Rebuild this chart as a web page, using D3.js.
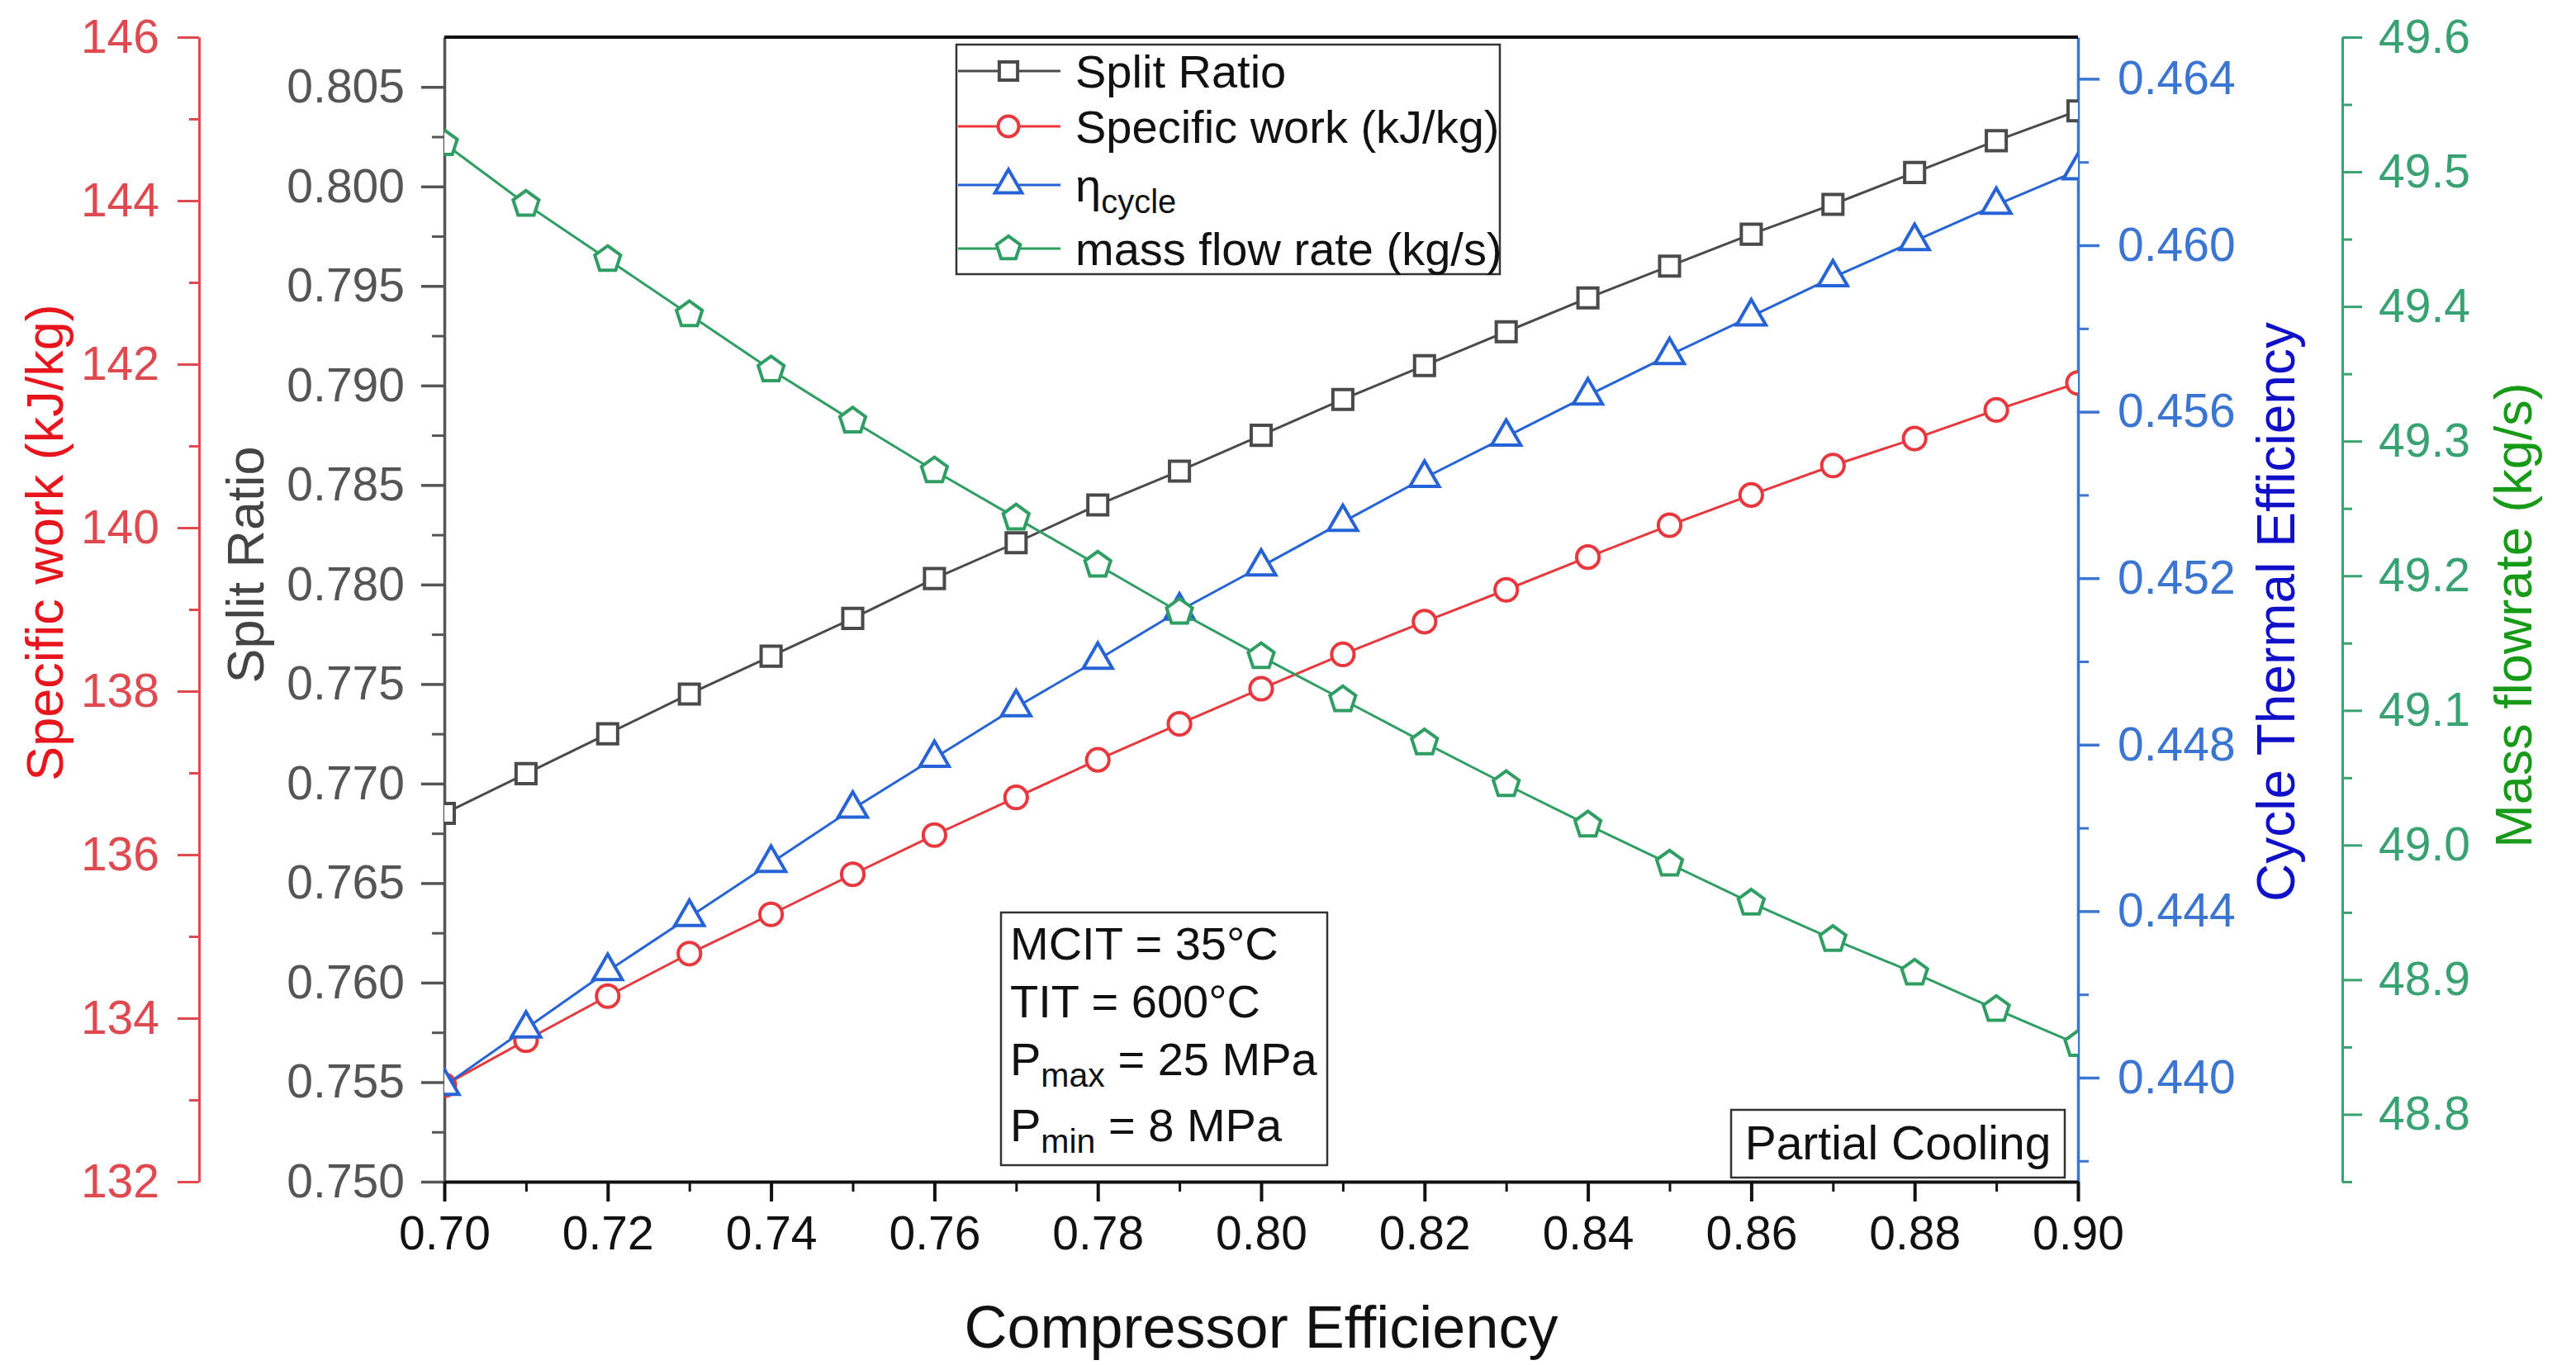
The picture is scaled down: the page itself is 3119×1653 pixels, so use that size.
<!DOCTYPE html>
<html>
<head>
<meta charset="utf-8">
<script src="https://cdn.jsdelivr.net/npm/d3@7"></script>
<style>
  html, body { margin: 0; padding: 0; background: #fff; }
  svg { display: block; font-family: "Liberation Sans", Arial, sans-serif; }
</style>
</head>
<body>
<svg id="chart" width="3119" height="1653"></svg>
<script>
// Compressor efficiency sweep (partial cooling cycle)
const efficiency = [0.70, 0.71, 0.72, 0.73, 0.74, 0.75, 0.76, 0.77, 0.78, 0.79, 0.80,
                    0.81, 0.82, 0.83, 0.84, 0.85, 0.86, 0.87, 0.88, 0.89, 0.90];

const splitRatio = [0.7685, 0.7705, 0.7725, 0.7745, 0.7764, 0.7783, 0.7803, 0.7821, 0.7840, 0.7857, 0.7875,
                    0.7893, 0.7910, 0.7927, 0.7944, 0.7960, 0.7976, 0.7991, 0.8007, 0.8023, 0.8038];

const specificWork = [133.18, 133.73, 134.27, 134.79, 135.27, 135.76, 136.24, 136.70, 137.16, 137.60, 138.03,
                      138.45, 138.85, 139.24, 139.64, 140.03, 140.40, 140.76, 141.09, 141.44, 141.77];

const etaCycle = [0.43980, 0.44118, 0.44256, 0.44386, 0.44516, 0.44646, 0.44768, 0.44890, 0.45004, 0.45122, 0.45228,
                  0.45335, 0.45441, 0.45540, 0.45639, 0.45736, 0.45829, 0.45923, 0.46010, 0.46097, 0.46180];

const massFlow = [49.521, 49.476, 49.435, 49.394, 49.353, 49.315, 49.278, 49.243, 49.208, 49.173, 49.140,
                  49.108, 49.076, 49.045, 49.015, 48.986, 48.957, 48.930, 48.905, 48.878, 48.852];

// Tick values
const xTicks = [0.70, 0.72, 0.74, 0.76, 0.78, 0.80, 0.82, 0.84, 0.86, 0.88, 0.90];
const xMinor = [0.71, 0.73, 0.75, 0.77, 0.79, 0.81, 0.83, 0.85, 0.87, 0.89];
const splitTicks = [0.750, 0.755, 0.760, 0.765, 0.770, 0.775, 0.780, 0.785, 0.790, 0.795, 0.800, 0.805];
const splitMinor = [0.7525, 0.7575, 0.7625, 0.7675, 0.7725, 0.7775, 0.7825, 0.7875, 0.7925, 0.7975, 0.8025];
const workTicks = [132, 134, 136, 138, 140, 142, 144, 146];
const workMinor = [133, 135, 137, 139, 141, 143, 145];
const etaTicks = [0.440, 0.444, 0.448, 0.452, 0.456, 0.460, 0.464];
const etaMinor = [0.438, 0.442, 0.446, 0.450, 0.454, 0.458, 0.462];
const massTicks = [48.8, 48.9, 49.0, 49.1, 49.2, 49.3, 49.4, 49.5, 49.6];
const massMinor = [48.75, 48.85, 48.95, 49.05, 49.15, 49.25, 49.35, 49.45, 49.55];

const seriesNames = ["Split Ratio", "Specific work (kJ/kg)", "η", "mass flow rate (kg/s)"];
const conditions = [["MCIT = 35°C", ""], ["TIT = 600°C", ""], ["P", "max", " = 25 MPa"], ["P", "min", " = 8 MPa"]];

// Layout
const L = 538, R = 2516, T = 45, B = 1431;
const svg = d3.select("#chart");

const x = d3.scaleLinear().domain([0.70, 0.90]).range([L, R]);
const ySplit = d3.scaleLinear().domain([0.750, 0.8075]).range([B, T]);
const yWork = d3.scaleLinear().domain([132, 146]).range([B, T]);
const yEta = d3.scaleLinear().domain([0.4375, 0.465]).range([B, T]);
const yMass = d3.scaleLinear().domain([48.75, 49.6]).range([B, T]);

const C = {
  split: "#4a4a4a", work: "#e8383d", eta: "#2563d6", mass: "#2f9e63",
  splitAxis: "#555555", workAxis: "#de4a50", etaAxis: "#3a75d2", massAxis: "#39a272",
  workTitle: "#e8151c", etaTitle: "#1010c8", massTitle: "#179a17", splitTitle: "#444444"
};

const tickFont = 57;

function styleAxis(g, color, width) {
  g.select(".domain").attr("stroke", color).attr("stroke-width", width);
  g.selectAll(".tick line").attr("stroke", color).attr("stroke-width", width);
  g.selectAll(".tick text").attr("fill", color).attr("font-size", tickFont)
    .attr("font-family", "Liberation Sans, Arial, sans-serif");
}

// Minor ticks (drawn first, no labels)
function minor(axisFn, scale, vals, len, tx, ty, color, width) {
  const g = svg.append("g").attr("transform", `translate(${tx},${ty})`)
    .call(axisFn(scale).tickValues(vals).tickSize(len).tickFormat(""));
  g.select(".domain").remove();
  g.selectAll(".tick line").attr("stroke", color).attr("stroke-width", width);
}

// Red specific-work axis (far left)
const workX = 241;
minor(d3.axisLeft, yWork, workMinor, 12, workX, 0, C.workAxis, 3);
const gWork = svg.append("g").attr("transform", `translate(${workX},0)`)
  .call(d3.axisLeft(yWork).tickValues(workTicks).tickSize(26).tickSizeOuter(0).tickPadding(22).tickFormat(d3.format("d")));
styleAxis(gWork, C.workAxis, 3);

// Split-ratio axis (plot left edge)
minor(d3.axisLeft, ySplit, splitMinor, 15, L, 0, C.splitAxis, 3);
const gSplit = svg.append("g").attr("transform", `translate(${L},0)`)
  .call(d3.axisLeft(ySplit).tickValues(splitTicks).tickSize(28).tickSizeOuter(0).tickPadding(20).tickFormat(d3.format(".3f")));
styleAxis(gSplit, C.splitAxis, 3.5);

// Cycle efficiency axis (plot right edge)
minor(d3.axisRight, yEta, etaMinor, 13, R, 0, C.etaAxis, 3);
const gEta = svg.append("g").attr("transform", `translate(${R},0)`)
  .call(d3.axisRight(yEta).tickValues(etaTicks).tickSize(26).tickSizeOuter(0).tickPadding(22).tickFormat(d3.format(".3f")));
styleAxis(gEta, C.etaAxis, 3.5);

// Mass flow axis (far right)
const massX = 2836;
minor(d3.axisRight, yMass, massMinor, 12, massX, 0, C.massAxis, 3);
const gMass = svg.append("g").attr("transform", `translate(${massX},0)`)
  .call(d3.axisRight(yMass).tickValues(massTicks).tickSize(24).tickSizeOuter(0).tickPadding(20).tickFormat(d3.format(".1f")));
styleAxis(gMass, C.massAxis, 3);

// Top frame line
svg.append("line").attr("x1", L).attr("x2", R).attr("y1", T).attr("y2", T)
  .attr("stroke", "#111").attr("stroke-width", 4);

// X axis
minor(d3.axisBottom, x, xMinor, 12, 0, B, "#111", 3);
const gX = svg.append("g").attr("transform", `translate(0,${B})`)
  .call(d3.axisBottom(x).tickValues(xTicks).tickSize(24).tickSizeOuter(0).tickPadding(18).tickFormat(d3.format(".2f")));
styleAxis(gX, "#111", 4);

// Axis titles
function vTitle(text, cx, cy, color, size) {
  svg.append("text").attr("transform", `translate(${cx},${cy}) rotate(-90)`)
    .attr("text-anchor", "middle").attr("dominant-baseline", "central")
    .attr("fill", color).attr("font-size", size).text(text);
}
vTitle("Specific work (kJ/kg)", 54, 657, C.workTitle, 63);
vTitle("Split Ratio", 297, 684, C.splitTitle, 63);
vTitle("Cycle Thermal Efficiency", 2756, 741, C.etaTitle, 64);
vTitle("Mass flowrate (kg/s)", 3043, 745, C.massTitle, 63);

svg.append("text").attr("x", (L + R) / 2).attr("y", 1632)
  .attr("text-anchor", "middle").attr("fill", "#111").attr("font-size", 72)
  .text("Compressor Efficiency");

// Plot clip
svg.append("clipPath").attr("id", "plotClip")
  .append("rect").attr("x", L).attr("y", T).attr("width", R - L).attr("height", B - T);

// Marker shapes
const pentagon = {
  draw(ctx, size) {
    const r = Math.sqrt(size / 2.3776);
    for (let i = 0; i < 5; i++) {
      const a = -Math.PI / 2 + i * 2 * Math.PI / 5;
      const px = r * Math.cos(a), py = r * Math.sin(a);
      if (i === 0) ctx.moveTo(px, py); else ctx.lineTo(px, py);
    }
    ctx.closePath();
  }
};

const series = [
  { name: seriesNames[0], vals: splitRatio, y: ySplit, color: C.split, sym: d3.symbolSquare, size: 580 },
  { name: seriesNames[1], vals: specificWork, y: yWork, color: C.work, sym: d3.symbolCircle, size: 580 },
  { name: seriesNames[2], vals: etaCycle, y: yEta, color: C.eta, sym: d3.symbolTriangle, size: 540 },
  { name: seriesNames[3], vals: massFlow, y: yMass, color: C.mass, sym: pentagon, size: 640 }
];

const plot = svg.append("g").attr("clip-path", "url(#plotClip)");

series.forEach(s => {
  const pts = efficiency.map((e, i) => [e, s.vals[i]]);
  plot.append("path").datum(pts)
    .attr("fill", "none").attr("stroke", s.color).attr("stroke-width", 3)
    .attr("d", d3.line().x(d => x(d[0])).y(d => s.y(d[1])));
  plot.selectAll(null).data(pts).enter().append("path")
    .attr("transform", d => `translate(${x(d[0])},${s.y(d[1])})`)
    .attr("d", d3.symbol().type(s.sym).size(s.size))
    .attr("fill", "#fff").attr("stroke", s.color).attr("stroke-width", 4);
});

// Legend
const lg = svg.append("g");
lg.append("rect").attr("x", 1158).attr("y", 54).attr("width", 658).attr("height", 278)
  .attr("fill", "#fff").attr("stroke", "#333").attr("stroke-width", 2.5);
const legendY = [86, 153, 224, 301];
series.forEach((s, i) => {
  const yy = legendY[i];
  lg.append("line").attr("x1", 1160).attr("x2", 1284).attr("y1", yy).attr("y2", yy)
    .attr("stroke", s.color).attr("stroke-width", 3);
  lg.append("path").attr("transform", `translate(1221,${yy})`)
    .attr("d", d3.symbol().type(s.sym).size(s.size * 0.85))
    .attr("fill", "#fff").attr("stroke", s.color).attr("stroke-width", 4);
  const t = lg.append("text").attr("x", 1302).attr("y", yy + 20)
    .attr("font-size", 56).attr("fill", "#111");
  if (i === 2) {
    t.append("tspan").text(s.name);
    t.append("tspan").attr("dy", 14).attr("font-size", 40).text("cycle");
  } else {
    t.text(s.name);
  }
});

// Operating conditions box
const cb = svg.append("g");
cb.append("rect").attr("x", 1212).attr("y", 1105).attr("width", 395).attr("height", 306)
  .attr("fill", "#fff").attr("stroke", "#333").attr("stroke-width", 2.5);
const condBase = [1162, 1232, 1302, 1382];
conditions.forEach((c, i) => {
  const t = cb.append("text").attr("x", 1223).attr("y", condBase[i])
    .attr("font-size", 56).attr("fill", "#111");
  if (c.length === 2) {
    t.text(c[0]);
  } else {
    t.append("tspan").text(c[0]);
    t.append("tspan").attr("dy", 14).attr("font-size", 41).text(c[1]);
    t.append("tspan").attr("dy", -14).text(c[2]);
  }
});

// Cycle label
const pc = svg.append("g");
pc.append("rect").attr("x", 2096).attr("y", 1344).attr("width", 404).attr("height", 82)
  .attr("fill", "#fff").attr("stroke", "#333").attr("stroke-width", 2.5);
pc.append("text").attr("x", 2298).attr("y", 1404).attr("text-anchor", "middle")
  .attr("font-size", 57).attr("fill", "#111").text("Partial Cooling");
</script>
</body>
</html>
